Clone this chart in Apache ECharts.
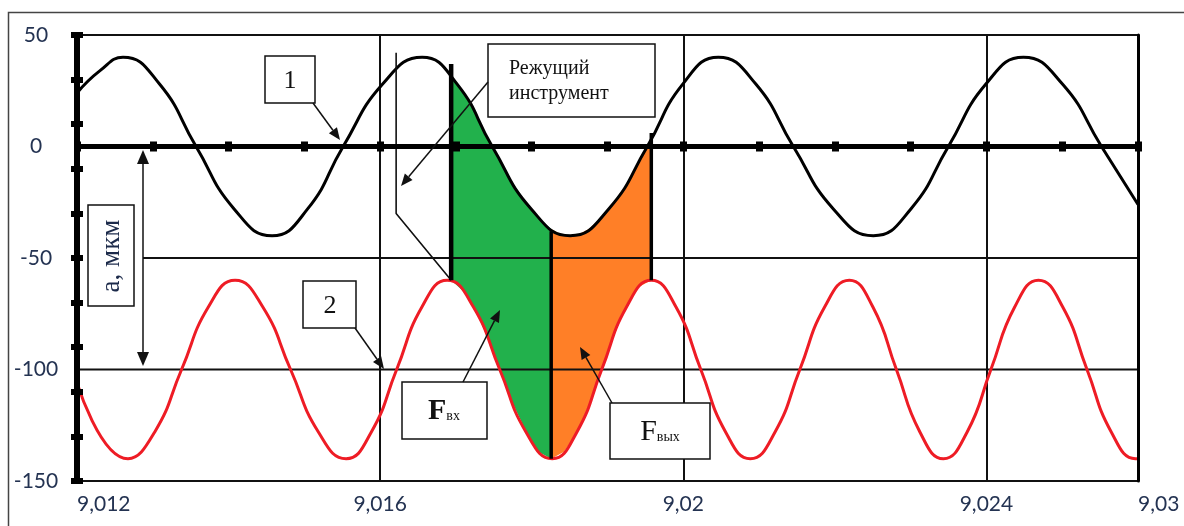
<!DOCTYPE html>
<html>
<head>
<meta charset="utf-8">
<script src="https://cdn.jsdelivr.net/npm/echarts@6/dist/echarts.min.js"></script>
<style>
html,body{margin:0;padding:0;background:#fff;}
#chart{width:1184px;height:526px;}
</style>
</head>
<body>
<div id="chart"></div>
<script>
// ---------- data ----------
const xTickLabels = ['9,012', '9,016', '9,02', '9,024', '9,03'];

// curve 1 (black)
const blackX = [9.012000, 9.012304, 9.012607, 9.013089, 9.013571, 9.014073, 9.014574, 9.015043, 9.015512, 9.016033,
  9.016554, 9.017016, 9.017479, 9.017993, 9.018508, 9.019016, 9.019525, 9.019993, 9.020462, 9.020957,
  9.021452, 9.021980, 9.022508, 9.023003, 9.023498, 9.023993, 9.024488, 9.025003, 9.025518, 9.026000];
const blackY = [24, 34, 40, 28, 0, -28, -40, -28, 0, 28,
  40, 28, 0, -28, -40, -28, 0, 28, 40, 28,
  0, -28, -40, -28, 0, 28, 40, 28, 0, -26];

// curve 2 (red)
const redX = [9.012000, 9.012673, 9.013026, 9.013380, 9.013733, 9.014086, 9.014452, 9.014818, 9.015185, 9.015551,
  9.015884, 9.016218, 9.016551, 9.016884, 9.017231, 9.017578, 9.017924, 9.018271, 9.018597, 9.018924,
  9.019251, 9.019578, 9.019904, 9.020231, 9.020558, 9.020884, 9.021211, 9.021538, 9.021865, 9.022191,
  9.022502, 9.022812, 9.023122, 9.023432, 9.023746, 9.024059, 9.024373, 9.024686, 9.025007, 9.025327,
  9.025647, 9.025967, 9.026000];
const redY = [-106, -140, -128, -100, -72, -60, -72, -100, -128, -140,
  -128, -100, -72, -60, -72, -100, -128, -140, -128, -100,
  -72, -60, -72, -100, -128, -140, -128, -100, -72, -60,
  -72, -100, -128, -140, -128, -100, -72, -60, -72, -100,
  -128, -140, -140];

// F_вх region (green): between curve 1 (top) and curve 2 (bottom)
const greenX = [9.016937, 9.017102, 9.017267, 9.017432, 9.017597, 9.017762, 9.017927, 9.018092, 9.018257];
const greenTop = [32, 24, 14, 3, -7, -17, -25, -32, -37];
const greenBottom = [-60, -65, -74, -87, -102, -116, -128, -137, -140];

// F_вых region (orange)
const orangeX = [9.018257, 9.018422, 9.018587, 9.018752, 9.018917, 9.019082, 9.019247, 9.019412, 9.019578];
const orangeTop = [-37, -40, -40, -37, -32, -25, -17, -7, 3];
const orangeBottom = [-140, -137, -129, -116, -101, -85, -72, -63, -60];

// cutting-tool vertical lines
const cutX = [9.016937, 9.018257, 9.019578];
const cutTop = [37, -38, 6];
const cutBottom = [-60, -140, -60];

// cutting-tool outline
const toolX = [9.016211, 9.016211, 9.016937];
const toolY = [42, -30, -60];

// horizontal reference lines
const refLineY = [-50, -100];
const refLineFromX = [9.012871, 9.012];

// ---------- chart ----------
const X_MIN = 9.012, X_MAX = 9.026;
const Y_MIN = -150, Y_MAX = 50;
const LBL = {fontFamily: 'Lato', fontSize: 21, color: '#243352'};

const pairs = (xs, ys) => xs.map((x, i) => [x, ys[i]]);
const hidden = {show: false};

const series = [];
// filled regions: polygon between the top and bottom readings
function addFill(name, xs, top, bottom, color) {
  series.push({
    type: 'custom', name: name, silent: true, z: 1,
    data: [0],
    renderItem: function (params, api) {
      const pts = [];
      for (let i = 0; i < xs.length; i++) pts.push(api.coord([xs[i], top[i]]));
      for (let i = xs.length - 1; i >= 0; i--) pts.push(api.coord([xs[i], bottom[i]]));
      return {type: 'polygon', shape: {points: pts, smooth: 0}, style: {fill: color}};
    }
  });
}
addFill('green', greenX, greenTop, greenBottom, '#22b14c');
addFill('orange', orangeX, orangeTop, orangeBottom, '#ff7f27');

// reference lines (drawn above the filled regions)
refLineY.forEach((y, i) => {
  series.push({
    type: 'line', data: [[refLineFromX[i], y], [X_MAX, y]], symbol: 'none', silent: true, z: 3,
    lineStyle: {color: '#111', width: 2}
  });
});

// curves
series.push({
  type: 'line', name: '1', data: pairs(blackX, blackY), smooth: true, symbol: 'none',
  lineStyle: {color: '#000', width: 3}, z: 4, silent: true
});
series.push({
  type: 'line', name: '2', data: pairs(redX, redY), smooth: true, symbol: 'none',
  lineStyle: {color: '#ee1c25', width: 3}, z: 4, silent: true
});

// tool outline
series.push({
  type: 'line', data: pairs(toolX, toolY), symbol: 'none',
  lineStyle: {color: '#111', width: 1.6}, z: 5, silent: true
});
// cut lines
cutX.forEach((x, i) => {
  series.push({
    type: 'line', data: [[x, cutTop[i]], [x, cutBottom[i]]], symbol: 'none',
    lineStyle: {color: '#000', width: i === 0 ? 4.5 : 3.5}, z: 6, silent: true
  });
});

// ---------- annotations (layout) ----------
const Z = 100;
const els = [];
function box(x, y, w, h) {
  els.push({type: 'rect', z: Z, shape: {x: x, y: y, width: w, height: h},
    style: {fill: '#fff', stroke: '#111', lineWidth: 1.5}});
}
function arrow(x1, y1, x2, y2, head, half) {
  head = head || 12; half = half || 5;
  const dx = x2 - x1, dy = y2 - y1, L = Math.hypot(dx, dy);
  const ux = dx / L, uy = dy / L;
  const bx = x2 - ux * head, by = y2 - uy * head;
  els.push({type: 'line', z: Z, shape: {x1: x1, y1: y1, x2: bx, y2: by},
    style: {stroke: '#111', lineWidth: 1.5}});
  els.push({type: 'polygon', z: Z, shape: {points: [[x2, y2], [bx - uy * half, by + ux * half], [bx + uy * half, by - ux * half]]},
    style: {fill: '#111'}});
}
function text(x, y, t, font, extra) {
  els.push(Object.assign({type: 'text', z: Z + 1, x: x, y: y,
    style: Object.assign({text: t, font: font, fill: '#111', textAlign: 'center', textVerticalAlign: 'middle'}, extra || {})}));
}

// outer frame
els.push({type: 'polyline', z: Z, shape: {points: [[8.5, 526], [8.5, 12.5], [1184, 12.5]]},
  style: {stroke: '#444', lineWidth: 1.5, fill: null}});

// label 1
box(265, 56, 50, 47);
text(290, 81, '1', '26px "Liberation Serif"');
arrow(313, 103, 340, 140);
// label 2
box(303, 281, 53, 47);
text(330, 306, '2', '26px "Liberation Serif"');
arrow(355, 328, 384, 369);
// a, мкм
box(88, 205, 46, 101);
els.push({type: 'text', z: Z + 1, x: 112, y: 256, rotation: Math.PI / 2,
  style: {text: 'a, мкм', font: '27px "Liberation Serif"', fill: '#1c2a4a', textAlign: 'center', textVerticalAlign: 'middle'}});
arrow(143, 258, 143, 150, 14, 6);
arrow(143, 258, 143, 366, 14, 6);
// Режущий инструмент
box(488, 44, 167, 73);
els.push({type: 'text', z: Z + 1, x: 509, y: 81,
  style: {text: 'Режущий\nинструмент', font: '20px "Liberation Serif"', fill: '#111',
    textAlign: 'left', textVerticalAlign: 'middle', lineHeight: 25}});
arrow(488, 82, 401, 186);
// F вх
box(402, 382, 85, 57);
els.push({type: 'text', z: Z + 1, x: 444, y: 411,
  style: {text: '{f|F}{s|вх}', textAlign: 'center', textVerticalAlign: 'middle',
    rich: {f: {font: 'bold 30px "Liberation Serif"', fill: '#111'},
           s: {font: '14px "Liberation Serif"', fill: '#111', padding: [10, 0, 0, 0]}}}});
arrow(463, 382, 500, 310);
// F вых
box(610, 403, 100, 56);
els.push({type: 'text', z: Z + 1, x: 660, y: 432,
  style: {text: '{f|F}{s|вых}', textAlign: 'center', textVerticalAlign: 'middle',
    rich: {f: {font: '30px "Liberation Serif"', fill: '#111'},
           s: {font: '14px "Liberation Serif"', fill: '#111', padding: [10, 0, 0, 0]}}}});
arrow(612, 403, 580, 347);

const option = {
  animation: false,
  backgroundColor: '#fff',
  grid: {left: 77, right: 46, top: 35, bottom: 45, containLabel: false},
  xAxis: [
    { // bottom axis with labels and vertical grid lines
      type: 'value', min: X_MIN, max: X_MAX, interval: 0.004, position: 'bottom',
      axisLine: {onZero: false, lineStyle: {color: '#111', width: 2}},
      axisTick: hidden,
      axisLabel: Object.assign({margin: 13, alignMinLabel: 'left', alignMaxLabel: 'left',
        formatter: (v, i) => xTickLabels[i]}, LBL),
      splitLine: {show: true, lineStyle: {color: '#111', width: 2}}
    },
    { // zero axis (thick) with square ticks above
      type: 'value', min: X_MIN, max: X_MAX, interval: 0.001, position: 'bottom', z: 10,
      axisLine: {onZero: true, onZeroAxisIndex: 0, lineStyle: {color: '#000', width: 5}},
      axisTick: {show: true, inside: true, length: 5, lineStyle: {color: '#000', width: 7}},
      axisLabel: hidden, splitLine: hidden
    },
    { // zero axis square ticks below
      type: 'value', min: X_MIN, max: X_MAX, interval: 0.001, position: 'bottom', z: 10,
      axisLine: {show: false, onZero: true, onZeroAxisIndex: 0},
      axisTick: {show: true, inside: false, length: 5, lineStyle: {color: '#000', width: 7}},
      axisLabel: hidden, splitLine: hidden
    },
    { // top border
      type: 'value', min: X_MIN, max: X_MAX, position: 'top',
      axisLine: {onZero: false, lineStyle: {color: '#111', width: 2}},
      axisTick: hidden, axisLabel: hidden, splitLine: hidden
    }
  ],
  yAxis: [
    {
      type: 'value', min: Y_MIN, max: Y_MAX, interval: 50, position: 'left', z: 10,
      axisLine: {show: true, onZero: false, lineStyle: {color: '#000', width: 6}},
      axisTick: hidden,
      axisLabel: Object.assign({margin: 41, align: 'center'}, LBL),
      splitLine: hidden
    },
    {
      type: 'value', min: Y_MIN, max: Y_MAX, interval: 20, position: 'left', z: 10,
      axisLine: {show: false, onZero: false},
      axisTick: {show: true, inside: false, length: 6, lineStyle: {color: '#000', width: 6}},
      axisLabel: hidden, splitLine: hidden
    },
    {
      type: 'value', min: Y_MIN, max: Y_MAX, interval: 20, position: 'left', z: 10,
      axisLine: {show: false, onZero: false},
      axisTick: {show: true, inside: true, length: 6, lineStyle: {color: '#000', width: 6}},
      axisLabel: hidden, splitLine: hidden
    },
    { // right border
      type: 'value', min: Y_MIN, max: Y_MAX, position: 'right', z: 10,
      axisLine: {show: true, onZero: false, lineStyle: {color: '#000', width: 3}},
      axisTick: hidden, axisLabel: hidden, splitLine: hidden
    }
  ],
  series: series,
  graphic: {elements: els}
};

const chart = echarts.init(document.getElementById('chart'), null, {renderer: 'canvas'});
chart.setOption(option);
</script>
</body>
</html>
